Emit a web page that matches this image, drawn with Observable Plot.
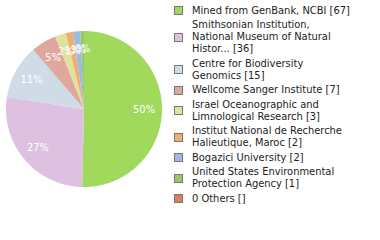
<!DOCTYPE html>
<html>
<head>
<meta charset="utf-8">
<script src="https://cdn.jsdelivr.net/npm/d3@7"></script>
<script src="https://cdn.jsdelivr.net/npm/@observablehq/plot@0.6"></script>
<style>
  html, body { margin: 0; padding: 0; background: #fff; }
  #wrap { position: relative; width: 380px; height: 240px; overflow: hidden;
          font-family: "DejaVu Sans", sans-serif; font-stretch: condensed; }
  #legend { position: absolute; left: 174px; top: 4.7px; font-size: 11px; line-height: 12px; color: #222; }
  .item { display: flex; align-items: center; margin-bottom: 2.5px; }
  .sw { width: 7px; height: 7px; border: 1px solid #777; margin-right: 9px; flex: none; }
  .lbl { white-space: pre; }
</style>
</head>
<body>
<div id="wrap"><div id="chart"></div><div id="legend"></div></div>
<script>
const categories = [
  "Mined from GenBank, NCBI",
  "Smithsonian Institution, National Museum of Natural Histor...",
  "Centre for Biodiversity Genomics",
  "Wellcome Sanger Institute",
  "Israel Oceanographic and Limnological Research",
  "Institut National de Recherche Halieutique, Maroc",
  "Bogazici University",
  "United States Environmental Protection Agency",
  "0 Others"
];
const counts = [67, 36, 15, 7, 3, 2, 2, 1, null];
const legendLines = [
  ["Mined from GenBank, NCBI [67]"],
  ["Smithsonian Institution,", "National Museum of Natural", "Histor... [36]"],
  ["Centre for Biodiversity", "Genomics [15]"],
  ["Wellcome Sanger Institute [7]"],
  ["Israel Oceanographic and", "Limnological Research [3]"],
  ["Institut National de Recherche", "Halieutique, Maroc [2]"],
  ["Bogazici University [2]"],
  ["United States Environmental", "Protection Agency [1]"],
  ["0 Others []"]
];
const colors = ["#a0d95c", "#dec0e0", "#cfdbe6", "#e0a89c", "#dde29d", "#f0ae6e", "#9dbbe2", "#9ac66f", "#e07c5f"];

const total = d3.sum(counts);
const slices = d3.pie().sort(null).value(d => d.v)(
  categories.map((name, i) => ({name, v: counts[i] || 0})).filter(d => d.v > 0)
);

// slice outlines in unit-circle data space (angle clockwise from top)
const pts = [];
for (const s of slices) {
  pts.push({name: s.data.name, x: 0, y: 0});
  const n = Math.max(2, Math.ceil((s.endAngle - s.startAngle) / 0.01));
  for (let k = 0; k <= n; k++) {
    const a = s.startAngle + (s.endAngle - s.startAngle) * k / n;
    pts.push({name: s.data.name, x: Math.sin(a), y: Math.cos(a)});
  }
}
const labels = slices.map(s => {
  const a = (s.startAngle + s.endAngle) / 2;
  return {x: 0.77 * Math.sin(a), y: 0.77 * Math.cos(a), t: Math.floor(100 * s.data.v / total) + "%"};
});

const chart = Plot.plot({
  width: 380, height: 240, margin: 0,
  x: {domain: [-1, 1], range: [5.5, 161.5], axis: null},
  y: {domain: [-1, 1], range: [186.5, 30.5], axis: null},
  color: {domain: categories, range: colors},
  style: {fontFamily: "DejaVu Sans, sans-serif", background: "white"},
  marks: [
    Plot.line(pts, {x: "x", y: "y", z: "name", fill: "name", stroke: null, curve: "linear-closed"}),
    Plot.text(labels, {x: "x", y: "y", text: "t", fill: "white", fontSize: 11, fontStretch: "condensed"})
  ]
});
document.getElementById("chart").appendChild(chart);

const legend = document.getElementById("legend");
categories.forEach((c, i) => {
  const it = document.createElement("div"); it.className = "item";
  const sw = document.createElement("div"); sw.className = "sw"; sw.style.background = colors[i];
  const lb = document.createElement("div"); lb.className = "lbl"; lb.textContent = legendLines[i].join("\n");
  it.appendChild(sw); it.appendChild(lb); legend.appendChild(it);
});
</script>
</body>
</html>
